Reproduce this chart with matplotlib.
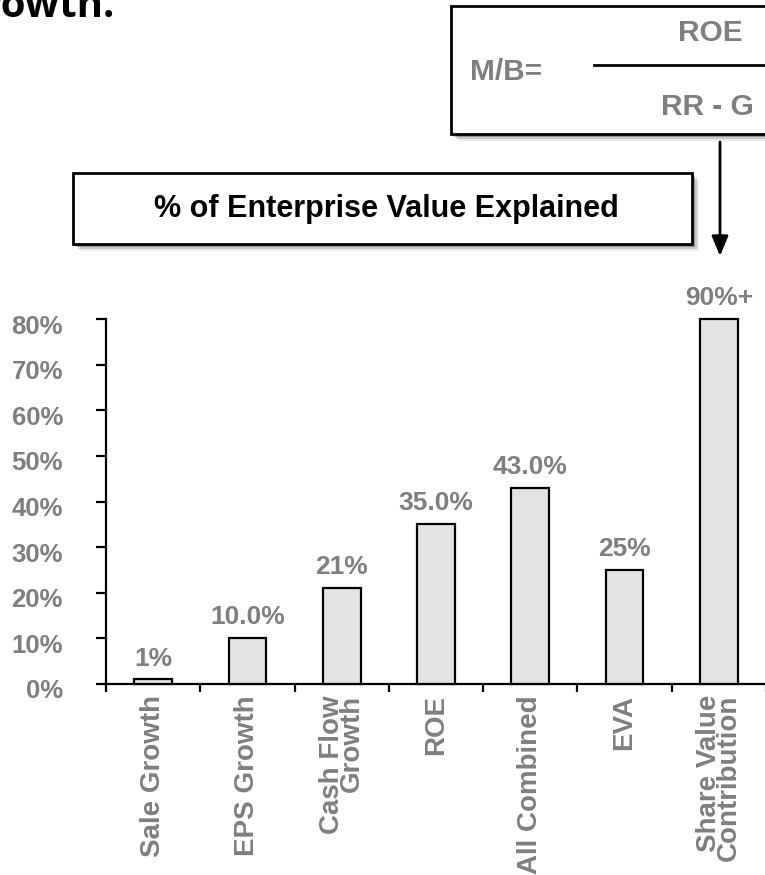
import matplotlib.pyplot as plt
import matplotlib.transforms as mtransforms
from matplotlib.patches import Rectangle
from matplotlib.text import Annotation
from matplotlib.lines import Line2D

categories = ['Sale Growth', 'EPS Growth', 'Cash Flow\nGrowth', 'ROE',
              'All Combined', 'EVA', 'Share Value\nContribution']
values = [1, 10, 21, 35, 43, 25, 90]
value_labels = ['1%', '10.0%', '21%', '35.0%', '43.0%', '25%', '90%+']
y_ticks = [0, 10, 20, 30, 40, 50, 60, 70, 80]

plt.rcParams['font.family'] = ['Liberation Sans', 'DejaVu Sans']
GREY = '#7f7f7f'
W, H = 765, 875


def fx(px):
    return px / W


def fy(py):
    return 1 - py / H


def shadow_box(x0, y0, x1, y1):
    # soft drop shadow, then the white framed box on top
    for off, a in [(7, 0.08), (5, 0.15), (3, 0.25)]:
        fig.add_artist(Rectangle((fx(x0 + off), fy(y1 + off)), (x1 - x0) / W, (y1 - y0) / H,
                                 transform=fig.transFigure, facecolor='black',
                                 edgecolor='none', alpha=a, zorder=1))
    fig.add_artist(Rectangle((fx(x0), fy(y1)), (x1 - x0) / W, (y1 - y0) / H,
                             transform=fig.transFigure, facecolor='white',
                             edgecolor='black', linewidth=2, zorder=2))


fig = plt.figure(figsize=(W / 100, H / 100), dpi=100)
ax = fig.add_axes([fx(106), fy(684), 660 / W, 365 / H])

ymax = y_ticks[-1]
xpos = list(range(len(categories)))
heights = [min(v, ymax) for v in values]
ax.bar(xpos, heights, width=0.4, color='#e3e3e3', edgecolor='black',
       linewidth=1.6, zorder=3, clip_on=False)
for xi, h, lab in zip(xpos, heights, value_labels):
    ax.annotate(lab, (xi, h), xytext=(0, 10), textcoords='offset points',
                ha='center', va='baseline', fontsize=19, fontweight='bold',
                color=GREY, annotation_clip=False)

ax.set_xlim(-0.5, len(categories) - 0.5)
ax.set_ylim(0, ymax)
for s in ['top', 'right']:
    ax.spines[s].set_visible(False)
for s in ['left', 'bottom']:
    ax.spines[s].set_linewidth(1.6)

ax.set_yticks(y_ticks)
ax.set_yticklabels([f'{t}%' for t in y_ticks], fontsize=18.5, fontweight='bold', color=GREY)
ax.tick_params(axis='y', direction='out', length=7, width=1.6, pad=24)
shift = mtransforms.ScaledTranslation(0, -0.05, fig.dpi_scale_trans)
for lbl in ax.get_yticklabels():
    lbl.set_transform(lbl.get_transform() + shift)

ax.set_xticks(xpos)
ax.set_xticklabels(categories, rotation=90, fontsize=20, fontweight='bold',
                   color=GREY, va='top', ha='center', ma='right', linespacing=0.72)
ax.set_xticks([p - 0.5 for p in xpos] + [xpos[-1] + 0.5], minor=True)
ax.tick_params(axis='x', which='major', length=0, pad=8)
ax.tick_params(axis='x', which='minor', direction='out', length=6, width=1.6)

# title fragment at the top
fig.text(fx(115), fy(17), 'Growth.', ha='right', va='baseline', fontsize=29,
         fontweight='bold', family=['Open Sans', 'DejaVu Sans'], color='black')

# formula box
shadow_box(451, 6, 790, 134)
fig.text(fx(470), fy(72), 'M/B=', ha='left', va='center', fontsize=21.5,
         fontweight='bold', color=GREY, zorder=3)
fig.text(fx(710), fy(33), 'ROE', ha='center', va='center', fontsize=21.5,
         fontweight='bold', color=GREY, zorder=3)
fig.text(fx(707), fy(107), 'RR - G', ha='center', va='center', fontsize=21.5,
         fontweight='bold', color=GREY, zorder=3)
fig.add_artist(Line2D([fx(594), fx(770)], [fy(65), fy(65)], transform=fig.transFigure,
                      color='black', linewidth=2, zorder=3))

# arrow from formula down to the last bar
fig.add_artist(Annotation('', xy=(720, H - 256), xytext=(720, H - 142),
                          xycoords='figure pixels',
                          arrowprops=dict(arrowstyle='-|>,head_length=0.6,head_width=0.25',
                                          color='black', lw=2, mutation_scale=20,
                                          shrinkA=0, shrinkB=0)))

# caption box
shadow_box(73, 173, 692, 244)
fig.text(fx(386), fy(209), '% of Enterprise Value Explained', ha='center', va='center',
         fontsize=22, fontweight='bold', color='black', zorder=3)

fig.savefig('out.png', dpi=100)
